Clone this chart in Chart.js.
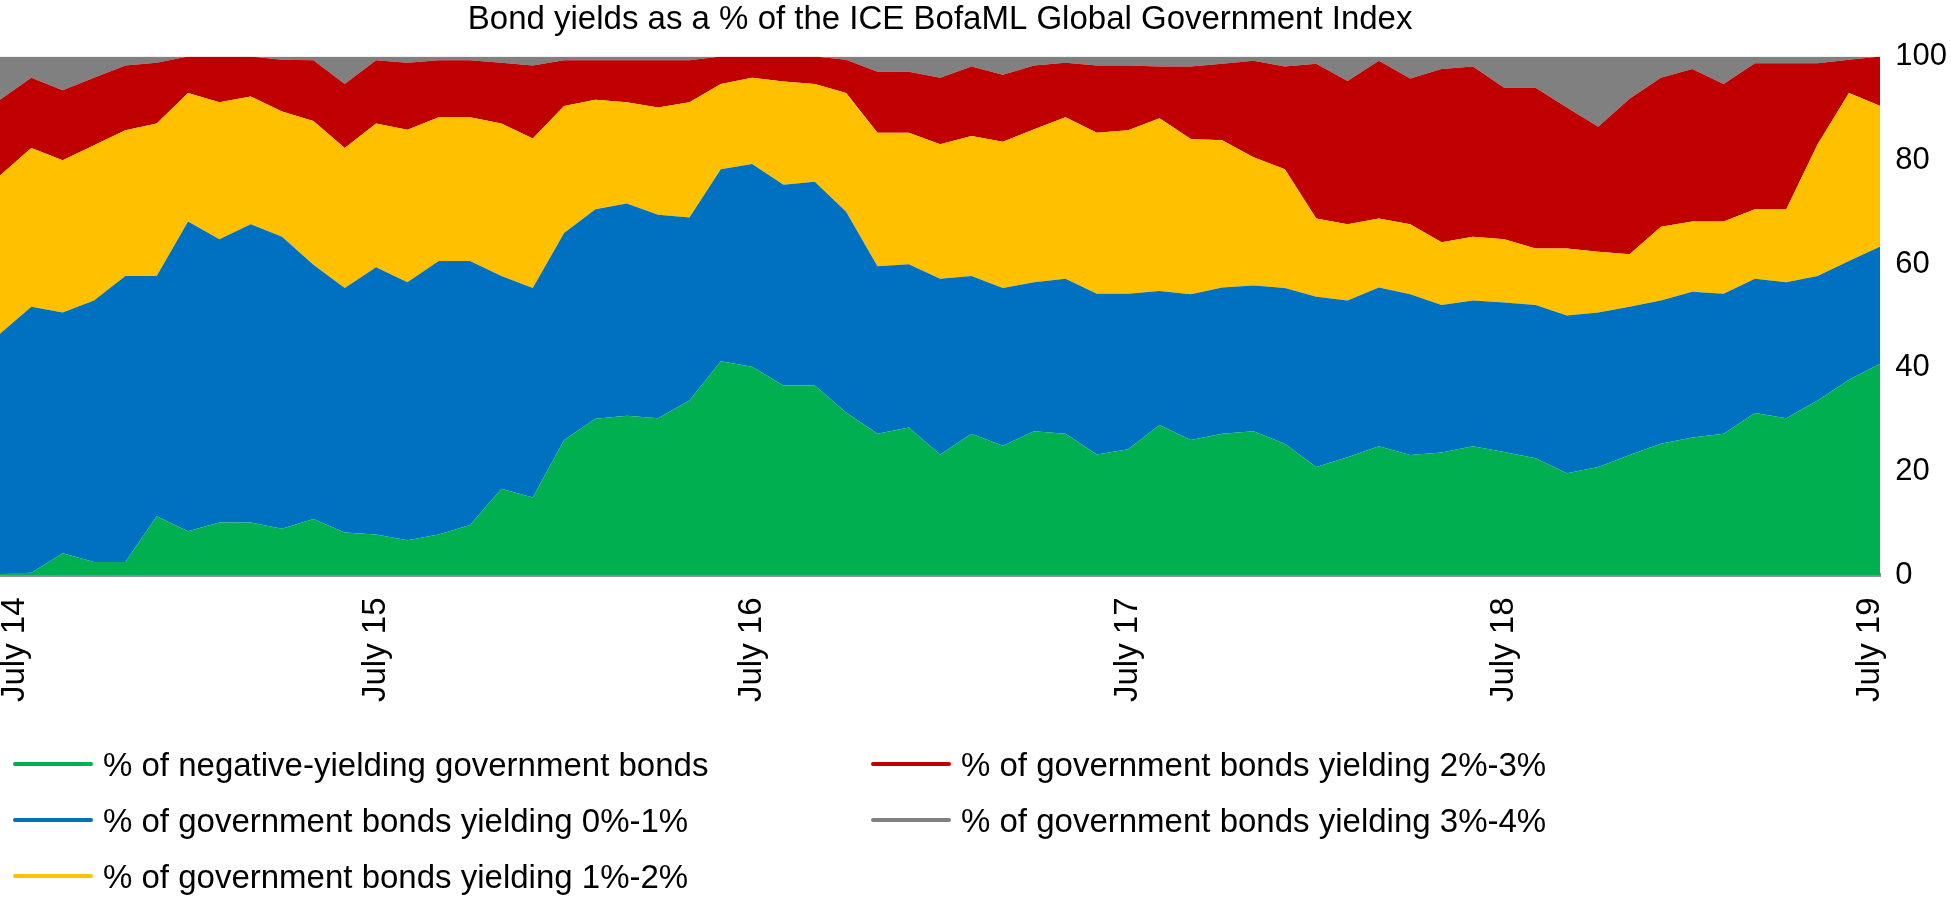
<!DOCTYPE html>
<html>
<head>
<meta charset="utf-8">
<script src="https://cdn.jsdelivr.net/npm/chart.js@4.4.1/dist/chart.umd.min.js"></script>
<style>
  html, body { margin: 0; padding: 0; background: #fff; }
  #wrap { position: relative; width: 1951px; height: 901px; overflow: hidden; }
  #c { position: absolute; left: -22px; top: 0; }
  .leg { position: absolute; font-family: "Liberation Sans", Arial, sans-serif; font-size: 33px; color: #000; line-height: 40px; white-space: nowrap; }
  .mark { position: absolute; width: 80px; height: 4px; border-radius: 2px; }
</style>
</head>
<body>
<div id="wrap">
  <canvas id="c" width="1973" height="901"></canvas>
  <div id="legend"></div>
</div>
<script>
// ---- Data ----
const categories = [
  "July 14","Aug 14","Sep 14","Oct 14","Nov 14","Dec 14","Jan 15","Feb 15","Mar 15","Apr 15","May 15","June 15",
  "July 15","Aug 15","Sep 15","Oct 15","Nov 15","Dec 15","Jan 16","Feb 16","Mar 16","Apr 16","May 16","June 16",
  "July 16","Aug 16","Sep 16","Oct 16","Nov 16","Dec 16","Jan 17","Feb 17","Mar 17","Apr 17","May 17","June 17",
  "July 17","Aug 17","Sep 17","Oct 17","Nov 17","Dec 17","Jan 18","Feb 18","Mar 18","Apr 18","May 18","June 18",
  "July 18","Aug 18","Sep 18","Oct 18","Nov 18","Dec 18","Jan 19","Feb 19","Mar 19","Apr 19","May 19","June 19",
  "July 19"
];

const seriesNames = [
  "% of negative-yielding government bonds",
  "% of government bonds yielding 0%-1%",
  "% of government bonds yielding 1%-2%",
  "% of government bonds yielding 2%-3%",
  "% of government bonds yielding 3%-4%"
];

// % of negative-yielding government bonds
const negative = [
  0.3,0.5,4.3,2.6,2.6,11.4,8.5,10.2,10.2,9.0,10.9,8.3,
  7.9,6.8,7.9,9.7,16.7,15.0,26.1,30.2,30.8,30.3,33.7,41.3,
  40.2,36.6,36.6,31.4,27.3,28.5,23.3,27.3,25.0,27.8,27.3,23.3,
  24.3,29.0,26.1,27.3,27.8,25.4,20.9,22.8,24.9,23.2,23.7,24.9,
  23.8,22.6,19.7,20.9,23.2,25.4,26.6,27.3,31.3,30.3,33.7,37.7,
  40.8
];
// % yielding 0%-1%
const y0to1 = [
  46.3,51.3,46.4,50.4,55.1,46.3,59.7,54.6,57.5,56.3,49.0,47.1,
  51.5,49.7,52.7,50.9,41.0,40.4,39.9,40.4,40.9,39.2,35.3,37.0,
  39.1,38.7,39.3,38.7,32.3,31.5,33.9,30.4,30.4,28.7,29.9,31.0,
  30.0,25.8,28.1,28.2,28.1,30.0,32.8,30.2,30.6,31.0,28.4,28.1,
  28.8,29.5,30.4,29.8,28.6,27.6,28.1,27.0,25.9,26.2,24.0,22.9,
  22.6
];
// % yielding 1%-2%
const y1to2 = [
  30.5,30.6,29.3,29.9,28.1,29.4,24.8,26.4,24.6,24.1,27.7,27.0,
  27.7,29.4,27.7,27.7,29.4,28.8,24.5,21.1,19.5,20.7,22.2,16.4,
  16.6,19.9,18.8,22.9,25.7,25.3,25.9,27.0,28.2,29.5,31.1,31.0,
  31.5,33.3,29.9,28.4,24.7,22.9,15.1,14.7,13.3,13.5,12.1,12.3,
  12.2,10.9,12.9,11.7,10.1,14.2,13.5,13.9,13.4,14.1,25.4,32.4,
  27.1
];
// % yielding 2%-3%
const y2to3 = [
  14.6,13.5,13.5,13.0,12.5,11.7,7.0,8.8,7.7,10.0,11.7,12.3,
  12.2,12.9,11.0,11.0,11.7,14.1,8.8,7.6,8.1,9.1,8.1,5.3,
  4.1,4.8,5.3,6.4,11.8,11.8,12.8,13.4,12.9,12.3,10.5,13.0,
  12.5,10.0,14.0,14.7,18.6,19.8,29.8,27.6,30.4,28.1,33.4,32.8,
  29.2,31.0,27.2,24.1,30.0,28.7,29.4,26.5,28.1,28.1,15.6,6.4,
  9.5
];
// % yielding 3%-4%
const y3to4 = [
  8.3,4.1,6.5,4.1,1.7,1.2,0.0,0.0,0.0,0.6,0.7,5.3,
  0.7,1.2,0.7,0.7,1.2,1.7,0.7,0.7,0.7,0.7,0.7,0.0,
  0.0,0.0,0.0,0.6,2.9,2.9,4.1,1.9,3.5,1.7,1.2,1.7,
  1.7,1.9,1.9,1.4,0.8,1.9,1.4,4.7,0.8,4.2,2.4,1.9,
  6.0,6.0,9.8,13.5,8.1,4.1,2.4,5.3,1.3,1.3,1.3,0.6,
  0.0
];

const yTicks = [0, 20, 40, 60, 80, 100];

const colors = ["#00B050", "#0070C0", "#FFC000", "#C00000", "#808080"];
const seriesValues = [negative, y0to1, y1to2, y2to3, y3to4];

// ---- Chart ----
const fontFamily = '"Liberation Sans", Arial, sans-serif';

const edgeLabelPlugin = {
  id: 'edgeLabels',
  beforeDraw(chart) {
    const items = chart.scales.x.getLabelItems();
    if (!items.length) return;
    items[0].options.translation[0] += 15;
    items[items.length - 1].options.translation[0] -= 10;
  }
};

new Chart(document.getElementById('c'), {
  type: 'line',
  data: {
    labels: categories,
    datasets: seriesValues.map((vals, i) => ({
      label: seriesNames[i],
      data: vals,
      backgroundColor: colors[i],
      borderColor: colors[i],
      borderWidth: 0,
      pointRadius: 0,
      tension: 0,
      fill: i === 0 ? 'origin' : '-1'
    }))
  },
  options: {
    responsive: false,
    animation: false,
    events: [],
    layout: { padding: { left: 0, right: -11, top: 0, bottom: 177 } },
    plugins: {
      legend: { display: false },
      tooltip: { enabled: false },
      title: {
        display: true,
        text: 'Bond yields as a % of the ICE BofaML Global Government Index',
        fullSize: false,
        color: '#000',
        font: { family: fontFamily, size: 33, weight: 'normal' },
        padding: { top: 0, bottom: 17 }
      }
    },
    scales: {
      x: {
        offset: false,
        grid: { display: false, drawTicks: false },
        border: { display: true, color: '#8f8f8f', width: 4 },
        ticks: {
          autoSkip: false,
          minRotation: 90,
          maxRotation: 90,
          padding: 22,
          color: '#000',
          font: { family: fontFamily, size: 33 },
          callback: function(value) {
            const l = this.getLabelForValue(value);
            return l.startsWith('July') ? l : '';
          }
        }
      },
      y: {
        position: 'right',
        stacked: true,
        min: 0,
        max: 100,
        afterBuildTicks: (scale) => { scale.ticks = yTicks.map(v => ({ value: v })); },
        grid: { display: false, drawTicks: false },
        border: { display: false },
        ticks: {
          padding: 15,
          color: '#000',
          font: { family: fontFamily, size: 31 }
        }
      }
    }
  },
  plugins: [edgeLabelPlugin]
});

// ---- HTML legend (two columns, as in the reference) ----
const legendLayout = [
  { series: 0, col: 0, row: 0 },
  { series: 1, col: 0, row: 1 },
  { series: 2, col: 0, row: 2 },
  { series: 3, col: 1, row: 0 },
  { series: 4, col: 1, row: 1 }
];
const colX = [13, 871];
const rowY = [764, 820, 876];
const legend = document.getElementById('legend');
legendLayout.forEach(it => {
  const m = document.createElement('div');
  m.className = 'mark';
  m.style.left = colX[it.col] + 'px';
  m.style.top = (rowY[it.row] - 2) + 'px';
  m.style.background = colors[it.series];
  legend.appendChild(m);
  const t = document.createElement('div');
  t.className = 'leg';
  t.style.left = (colX[it.col] + 90) + 'px';
  t.style.top = (rowY[it.row] - 19) + 'px';
  t.textContent = seriesNames[it.series];
  legend.appendChild(t);
});
</script>
</body>
</html>
